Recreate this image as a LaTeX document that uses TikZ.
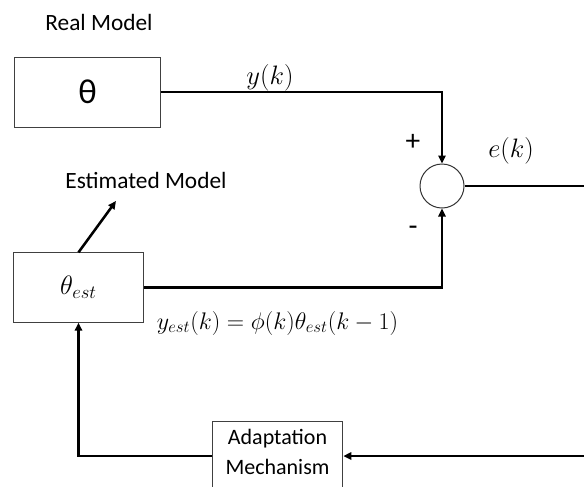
\RequirePackage{fix-cm}
\documentclass[tikz,border=0pt]{standalone}
\usepackage{fontspec}
\setmainfont{Carlito}
\usepackage{amsmath}
\usetikzlibrary{arrows.meta, positioning}

\begin{document}
\begin{tikzpicture}[
  x=0.75pt, y=-0.75pt,
  block/.style={draw=black!75, line width=0.75pt, inner sep=2pt, align=center},
  sumnode/.style={circle, draw=black!80, line width=0.75pt, minimum size=33pt, inner sep=0pt},
  wire/.style={line width=1.9pt},
  arr/.style={wire, -{Triangle[length=6pt, width=5.5pt]}},
  lbl/.style={font=\fontsize{17.5}{20}\selectfont},
  mlbl/.style={font=\fontsize{20}{23}\selectfont}
]
\useasboundingbox (0,0) rectangle (584,486);

% blocks
\node[block, minimum width=110pt, minimum height=52.5pt, font=\fontsize{26}{30}\selectfont] (real) at (87.5,92) {θ};
\node[block, minimum width=98pt, minimum height=52pt, font=\fontsize{20}{24}\selectfont] (est) at (78.5,287.5) {$\theta_{est}$};
\node[block, minimum width=98pt, minimum height=53pt, font=\fontsize{16.5}{22.5}\selectfont, inner ysep=5.5pt, text depth=20pt, anchor=north] (adapt) at (277.5,421) {Adaptation\\Mechanism};
\node[sumnode] (sum) at (442,186) {};

% texts
\node[lbl] (reallbl) at (99,22) {Real Model};
\node[lbl] (estlbl) at (146,180) {Estimated Model};
\node[mlbl] (ylbl) at (270,78) {$y(k)$};
\node[mlbl] (elbl) at (511,151) {$e(k)$};
\node[font=\fontsize{22}{24}\selectfont] (plus) at (413,142) {+};
\node[font=\fontsize{22}{24}\selectfont] (minus) at (413,231) {-};
\node[font=\fontsize{18}{21}\selectfont] (yestlbl) at (277.5,323) {$y_{est}(k) = \phi(k)\theta_{est}(k-1)$};

% helper points
\coordinate (esttip) at (116,201);
\coordinate (redge) at (588,186);

% connectors
\draw[arr] (real.east) -| (sum.north);
\draw[arr] (est.east) -| (sum.south);
\draw[arr] (est.north) -- (esttip);
\draw[arr] (sum.east) -- (redge) |- (adapt.east |- 0,456);
\draw[arr] (adapt.west |- 0,456) -| (est.south);
\end{tikzpicture}
\end{document}
